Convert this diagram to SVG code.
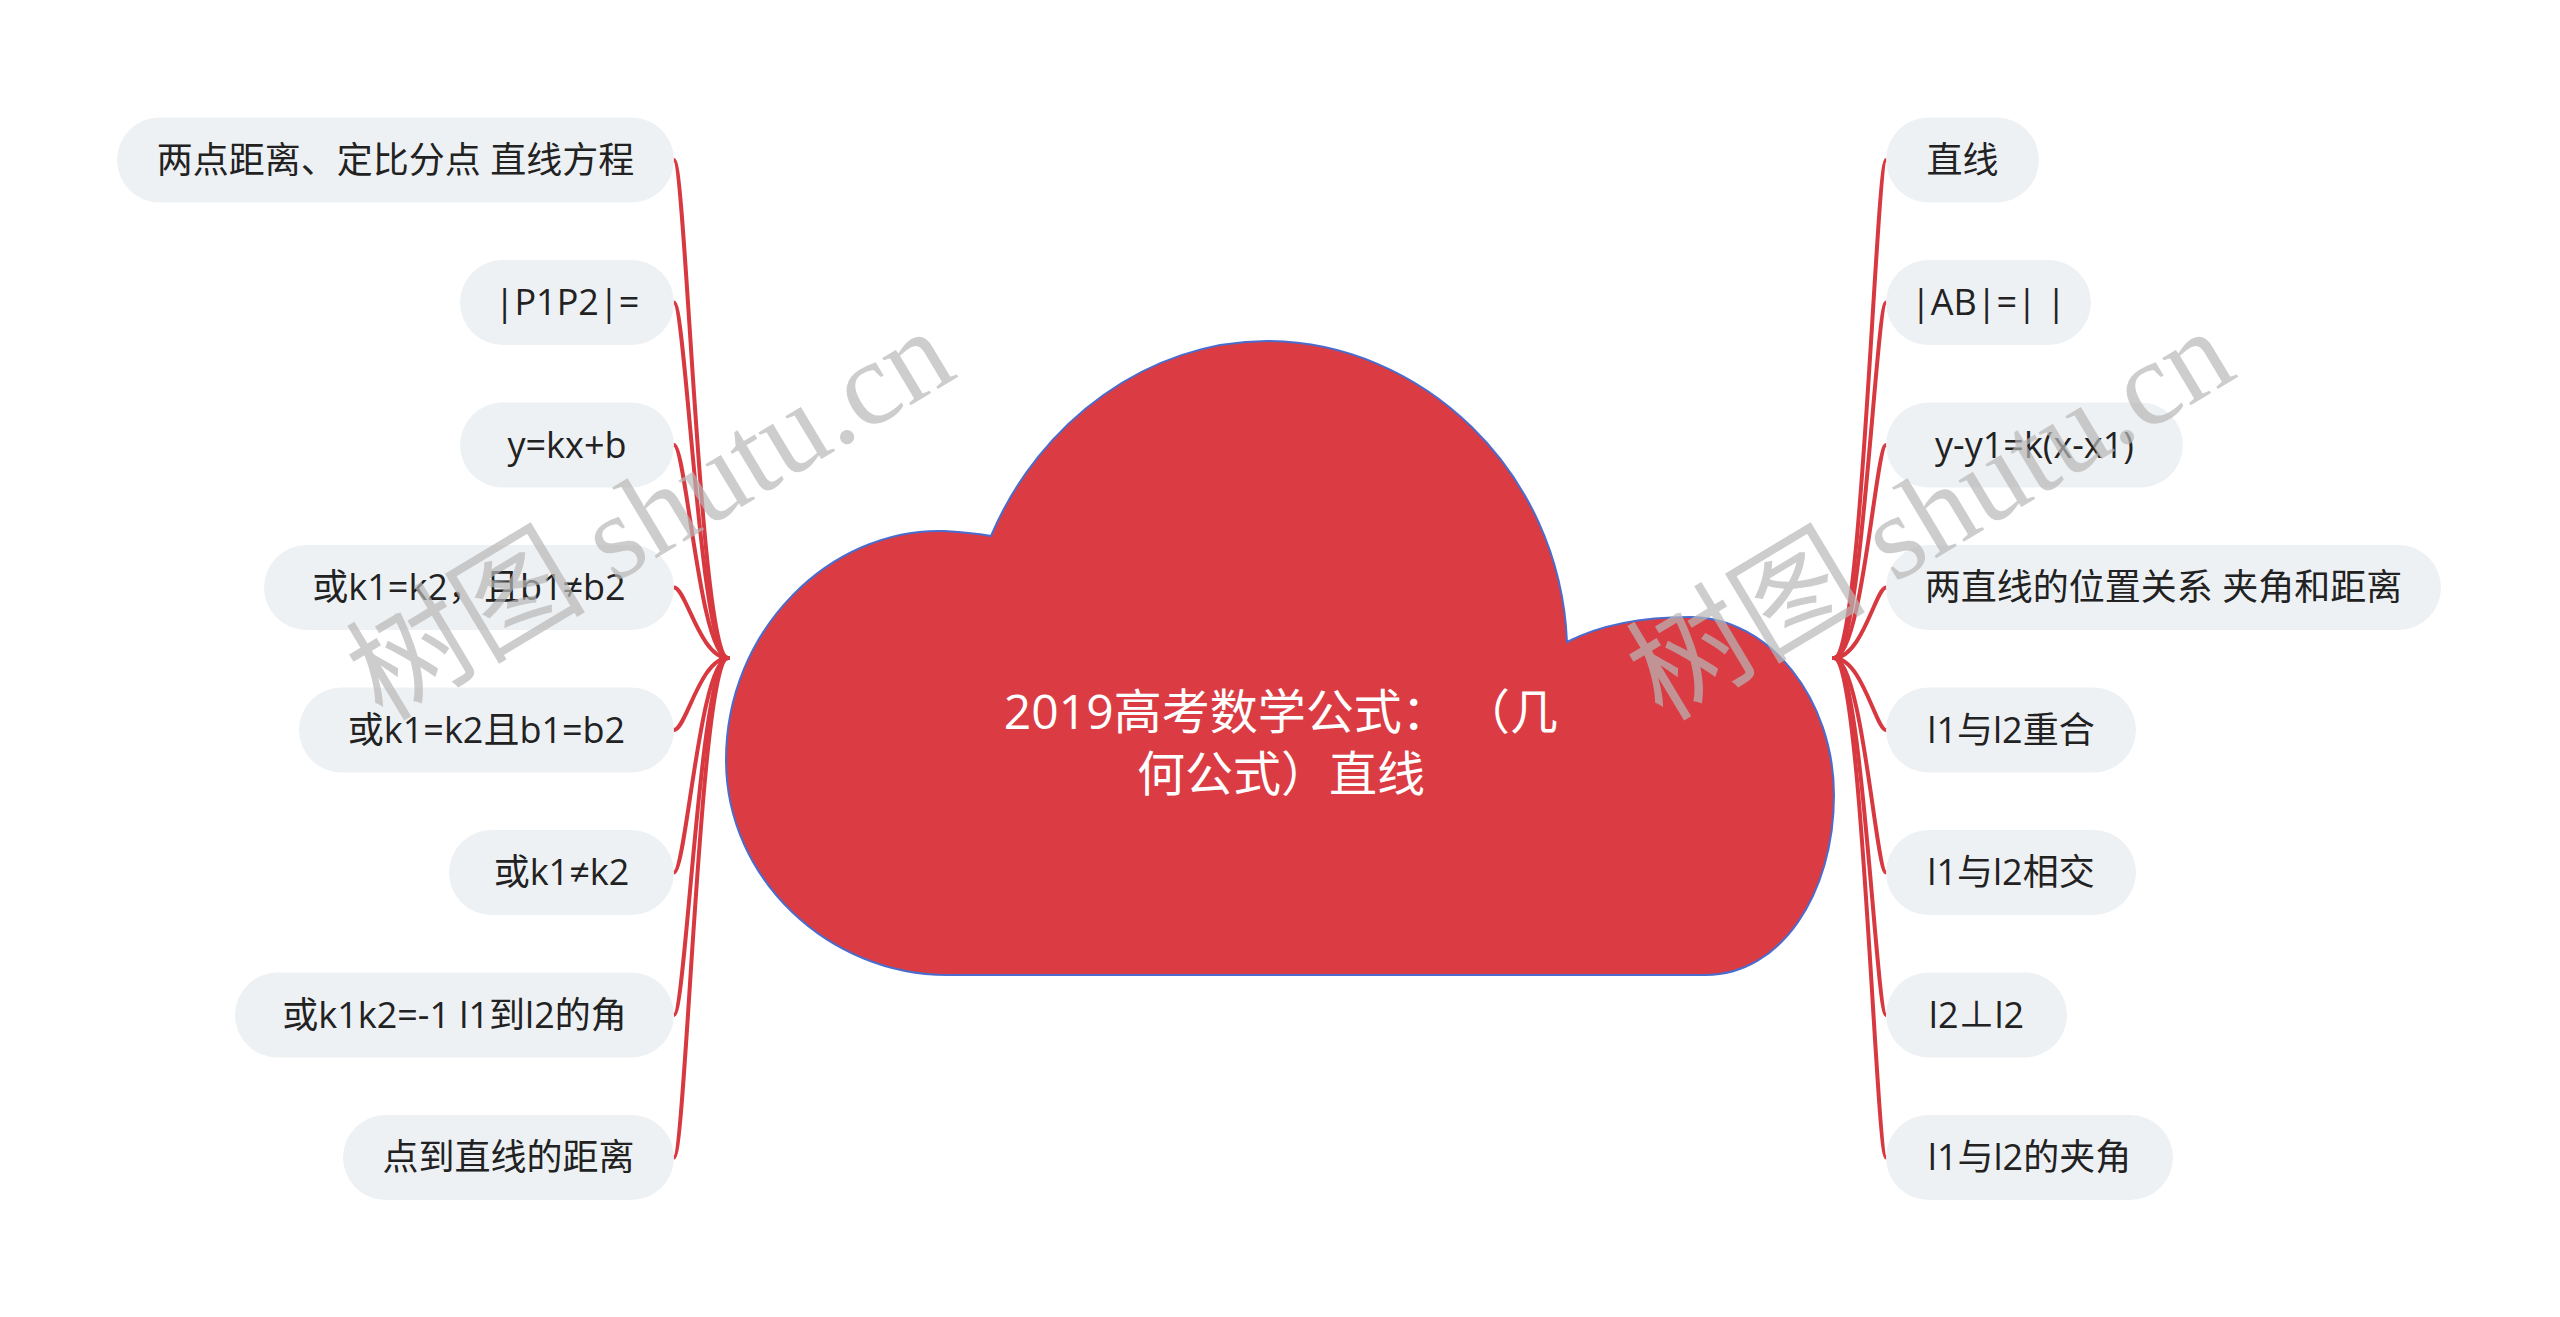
<svg xmlns="http://www.w3.org/2000/svg" width="2560" height="1317" viewBox="0 0 2560 1317">
<style>
.node rect{fill:#eef1f4}
.node text{font-family:"Open Sans","Noto Sans CJK SC",sans-serif;font-size:36px;fill:#222;text-anchor:middle}
.conn path{fill:none;stroke:#d8383f;stroke-width:4;stroke-linecap:round}
.center text{font-family:"Open Sans","Noto Sans CJK SC",sans-serif;font-size:48px;fill:#fff;text-anchor:middle}
.wm{font-family:"Liberation Serif","Noto Sans CJK SC",serif;font-size:120px;fill:#b8b8b8;opacity:0.7}
</style>
<rect width="2560" height="1317" fill="#fff"/>
<g id="connectors" class="conn">
<path d="M728 658 C700 658 686 160 674 160"/>
<path d="M728 658 C700 658 686 302.5 674 302.5"/>
<path d="M728 658 C700 658 686 445 674 445"/>
<path d="M728 658 C700 658 686 587.5 674 587.5"/>
<path d="M728 658 C700 658 686 730 674 730"/>
<path d="M728 658 C700 658 686 872.5 674 872.5"/>
<path d="M728 658 C700 658 686 1015 674 1015"/>
<path d="M728 658 C700 658 686 1157.5 674 1157.5"/>
<path d="M1834 658 C1862 658 1876 160 1886 160"/>
<path d="M1834 658 C1862 658 1876 302.5 1886 302.5"/>
<path d="M1834 658 C1862 658 1876 445 1886 445"/>
<path d="M1834 658 C1862 658 1876 587.5 1886 587.5"/>
<path d="M1834 658 C1862 658 1876 730 1886 730"/>
<path d="M1834 658 C1862 658 1876 872.5 1886 872.5"/>
<path d="M1834 658 C1862 658 1876 1015 1886 1015"/>
<path d="M1834 658 C1862 658 1876 1157.5 1886 1157.5"/>
</g>
<g id="center" class="center">
<path d="M947 975 C830 975 726 880 726 760 C726 630 830 528 944 531 C960 532 975 533 991 536 C1040 420 1150 341 1267 341 C1420 341 1560 470 1567 642 C1600 625 1640 617 1690 617 C1770 617 1834 700 1834 795 C1834 895 1780 975 1706 975 Z" fill="#db3c43" stroke="#4a6ccc" stroke-width="2"/>
<text x="1281" y="729">2019高考数学公式： （几</text>
<text x="1281" y="791">何公式）直线</text>
</g>
<g id="L1" class="node"><rect x="117" y="117.5" width="557" height="85" rx="42.5"/><text x="395.5" y="172.5">两点距离、定比分点 直线方程</text></g>
<g id="L2" class="node"><rect x="460" y="260" width="214" height="85" rx="42.5"/><text x="567" y="315">|P1P2|=</text></g>
<g id="L3" class="node"><rect x="460" y="402.5" width="214" height="85" rx="42.5"/><text x="567" y="457.5">y=kx+b</text></g>
<g id="L4" class="node"><rect x="264" y="545" width="410" height="85" rx="42.5"/><text x="469" y="600">或k1=k2，且b1≠b2</text></g>
<g id="L5" class="node"><rect x="299" y="687.5" width="375" height="85" rx="42.5"/><text x="486.5" y="742.5">或k1=k2且b1=b2</text></g>
<g id="L6" class="node"><rect x="449" y="830" width="225" height="85" rx="42.5"/><text x="561.5" y="885">或k1≠k2</text></g>
<g id="L7" class="node"><rect x="235" y="972.5" width="439" height="85" rx="42.5"/><text x="454.5" y="1027.5">或k1k2=-1 l1到l2的角</text></g>
<g id="L8" class="node"><rect x="343" y="1115" width="331" height="85" rx="42.5"/><text x="508.5" y="1170">点到直线的距离</text></g>
<g id="R1" class="node"><rect x="1886" y="117.5" width="153" height="85" rx="42.5"/><text x="1962.5" y="172.5">直线</text></g>
<g id="R2" class="node"><rect x="1886" y="260" width="205" height="85" rx="42.5"/><text x="1988.5" y="315">|AB|=| |</text></g>
<g id="R3" class="node"><rect x="1886" y="402.5" width="297" height="85" rx="42.5"/><text x="2034.5" y="457.5">y-y1=k(x-x1)</text></g>
<g id="R4" class="node"><rect x="1886" y="545" width="555" height="85" rx="42.5"/><text x="2163.5" y="600">两直线的位置关系 夹角和距离</text></g>
<g id="R5" class="node"><rect x="1886" y="687.5" width="250" height="85" rx="42.5"/><text x="2011" y="742.5">l1与l2重合</text></g>
<g id="R6" class="node"><rect x="1886" y="830" width="250" height="85" rx="42.5"/><text x="2011" y="885">l1与l2相交</text></g>
<g id="R7" class="node"><rect x="1886" y="972.5" width="181" height="85" rx="42.5"/><text x="1976.5" y="1027.5">l2⊥l2</text></g>
<g id="R8" class="node"><rect x="1886" y="1115" width="287" height="85" rx="42.5"/><text x="2029.5" y="1170">l1与l2的夹角</text></g>
<g id="watermark">
<text class="wm" x="650" y="555" text-anchor="middle" transform="rotate(-31 650 514)">树图 shutu.cn</text>
<text class="wm" x="1930" y="555" text-anchor="middle" transform="rotate(-31 1930 514)">树图 shutu.cn</text>
</g>
</svg>
